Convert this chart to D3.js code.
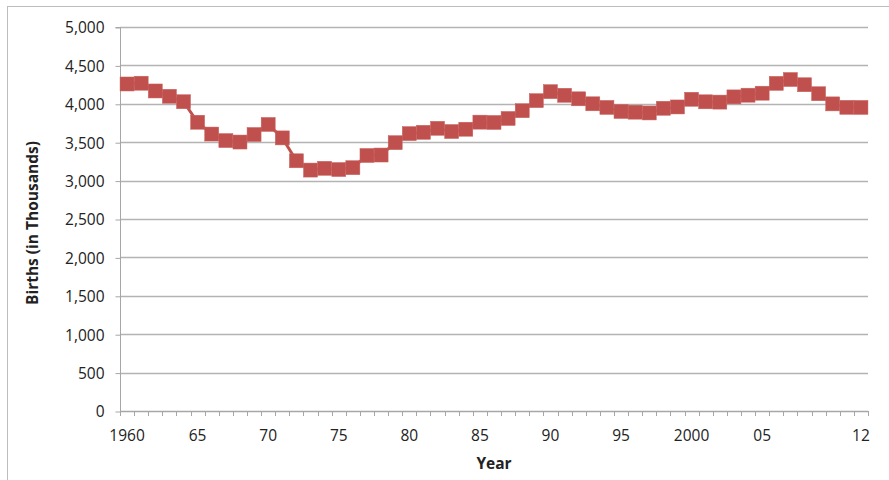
<!DOCTYPE html>
<html>
<head>
<meta charset="utf-8">
<script src="https://cdn.jsdelivr.net/npm/d3@7"></script>
<style>
  html, body { margin: 0; padding: 0; background: #fff; }
  svg { display: block; }
  text { font-family: "Open Sans", Lato, "Liberation Sans", sans-serif; fill: #222; }
</style>
</head>
<body>
<svg id="chart" width="889" height="480"></svg>
<script>
const years = d3.range(1960, 2013);
const births = [4258, 4268, 4167, 4098, 4027, 3760, 3606, 3521, 3502, 3600,
                3731, 3556, 3258, 3137, 3160, 3144, 3168, 3327, 3333, 3494,
                3612, 3629, 3681, 3639, 3669, 3761, 3757, 3809, 3910, 4041,
                4158, 4111, 4065, 4000, 3953, 3900, 3891, 3881, 3942, 3959,
                4059, 4026, 4022, 4090, 4112, 4138, 4266, 4316, 4248, 4131,
                3999, 3954, 3953];
const xTickYears = [1960, 1965, 1970, 1975, 1980, 1985, 1990, 1995, 2000, 2005, 2012];
const xTickLabels = ["1960", "65", "70", "75", "80", "85", "90", "95", "2000", "05", "12"];
const yTicks = [0, 500, 1000, 1500, 2000, 2500, 3000, 3500, 4000, 4500, 5000];

const svg = d3.select("#chart");
const W = 889, H = 480;
const plot = { left: 120, right: 868, top: 27, bottom: 411 };
const red = "#C0504D";

// outer border
svg.append("rect").attr("x", 7.5).attr("y", 6.5).attr("width", W).attr("height", H)
  .attr("fill", "none").attr("stroke", "#bdbdbd").attr("stroke-width", 1);

const x = d3.scaleBand().domain(years).range([plot.left, plot.right]).paddingInner(0).paddingOuter(0);
const y = d3.scaleLinear().domain([0, 5000]).range([plot.bottom, plot.top]);

// gridlines
svg.append("g").selectAll("line").data(yTicks.filter(d => d > 0)).join("line")
  .attr("x1", plot.left).attr("x2", plot.right)
  .attr("y1", d => Math.round(y(d)) + 0.5).attr("y2", d => Math.round(y(d)) + 0.5)
  .attr("stroke", "#b3b3b3").attr("stroke-width", 1.3);

// y axis
const yAxis = d3.axisLeft(y).tickValues(yTicks).tickSize(5).tickPadding(11)
  .tickFormat(d3.format(","));
const gy = svg.append("g").attr("transform", `translate(${plot.left + 0.5},0.5)`).call(yAxis);
gy.select(".domain").attr("stroke", "#a6a6a6").attr("d", `M-5,${plot.top}H0V${plot.bottom}`);
gy.selectAll(".tick line").attr("stroke", "#a6a6a6");
gy.selectAll(".tick text").style("font-size", "15.5px").attr("fill", "#222").attr("dy", "0.35em");

// x axis: ticks at every category boundary
const boundaries = years.map(d => x(d)).concat([plot.right]);
const gx = svg.append("g");
gx.append("line").attr("x1", plot.left).attr("x2", plot.right)
  .attr("y1", plot.bottom + 0.5).attr("y2", plot.bottom + 0.5)
  .attr("stroke", "#a6a6a6").attr("stroke-width", 1.3);
gx.selectAll("line.tk").data(boundaries).join("line").attr("class", "tk")
  .attr("x1", d => Math.round(d) + 0.5).attr("x2", d => Math.round(d) + 0.5)
  .attr("y1", plot.bottom).attr("y2", plot.bottom + 5)
  .attr("stroke", "#a6a6a6");
gx.selectAll("text").data(xTickYears).join("text")
  .attr("x", d => x(d) + x.bandwidth() / 2)
  .attr("y", plot.bottom + 30)
  .attr("text-anchor", "middle")
  .style("font-size", "15.5px")
  .text((d, i) => xTickLabels[i]);

// axis titles
svg.append("text").attr("x", 494).attr("y", 469).attr("text-anchor", "middle")
  .style("font-size", "15.5px").style("font-weight", "bold").text("Year");
svg.append("text").attr("transform", `translate(38,223) rotate(-90)`)
  .attr("text-anchor", "middle")
  .style("font-size", "15.5px").style("font-weight", "bold").text("Births (in Thousands)");

// series
const data = years.map((yr, i) => ({ year: yr, value: births[i] }));
const cx = d => x(d.year) + x.bandwidth() / 2;
svg.append("path").datum(data)
  .attr("fill", "none").attr("stroke", red).attr("stroke-width", 3)
  .attr("d", d3.line().x(cx).y(d => y(d.value)));
const ms = 14;
svg.append("g").selectAll("rect").data(data).join("rect")
  .attr("x", d => cx(d) - ms / 2).attr("y", d => y(d.value) - ms / 2)
  .attr("width", ms).attr("height", ms)
  .attr("fill", red).attr("stroke", "#c8625f").attr("stroke-width", 0.5);
</script>
</body>
</html>
